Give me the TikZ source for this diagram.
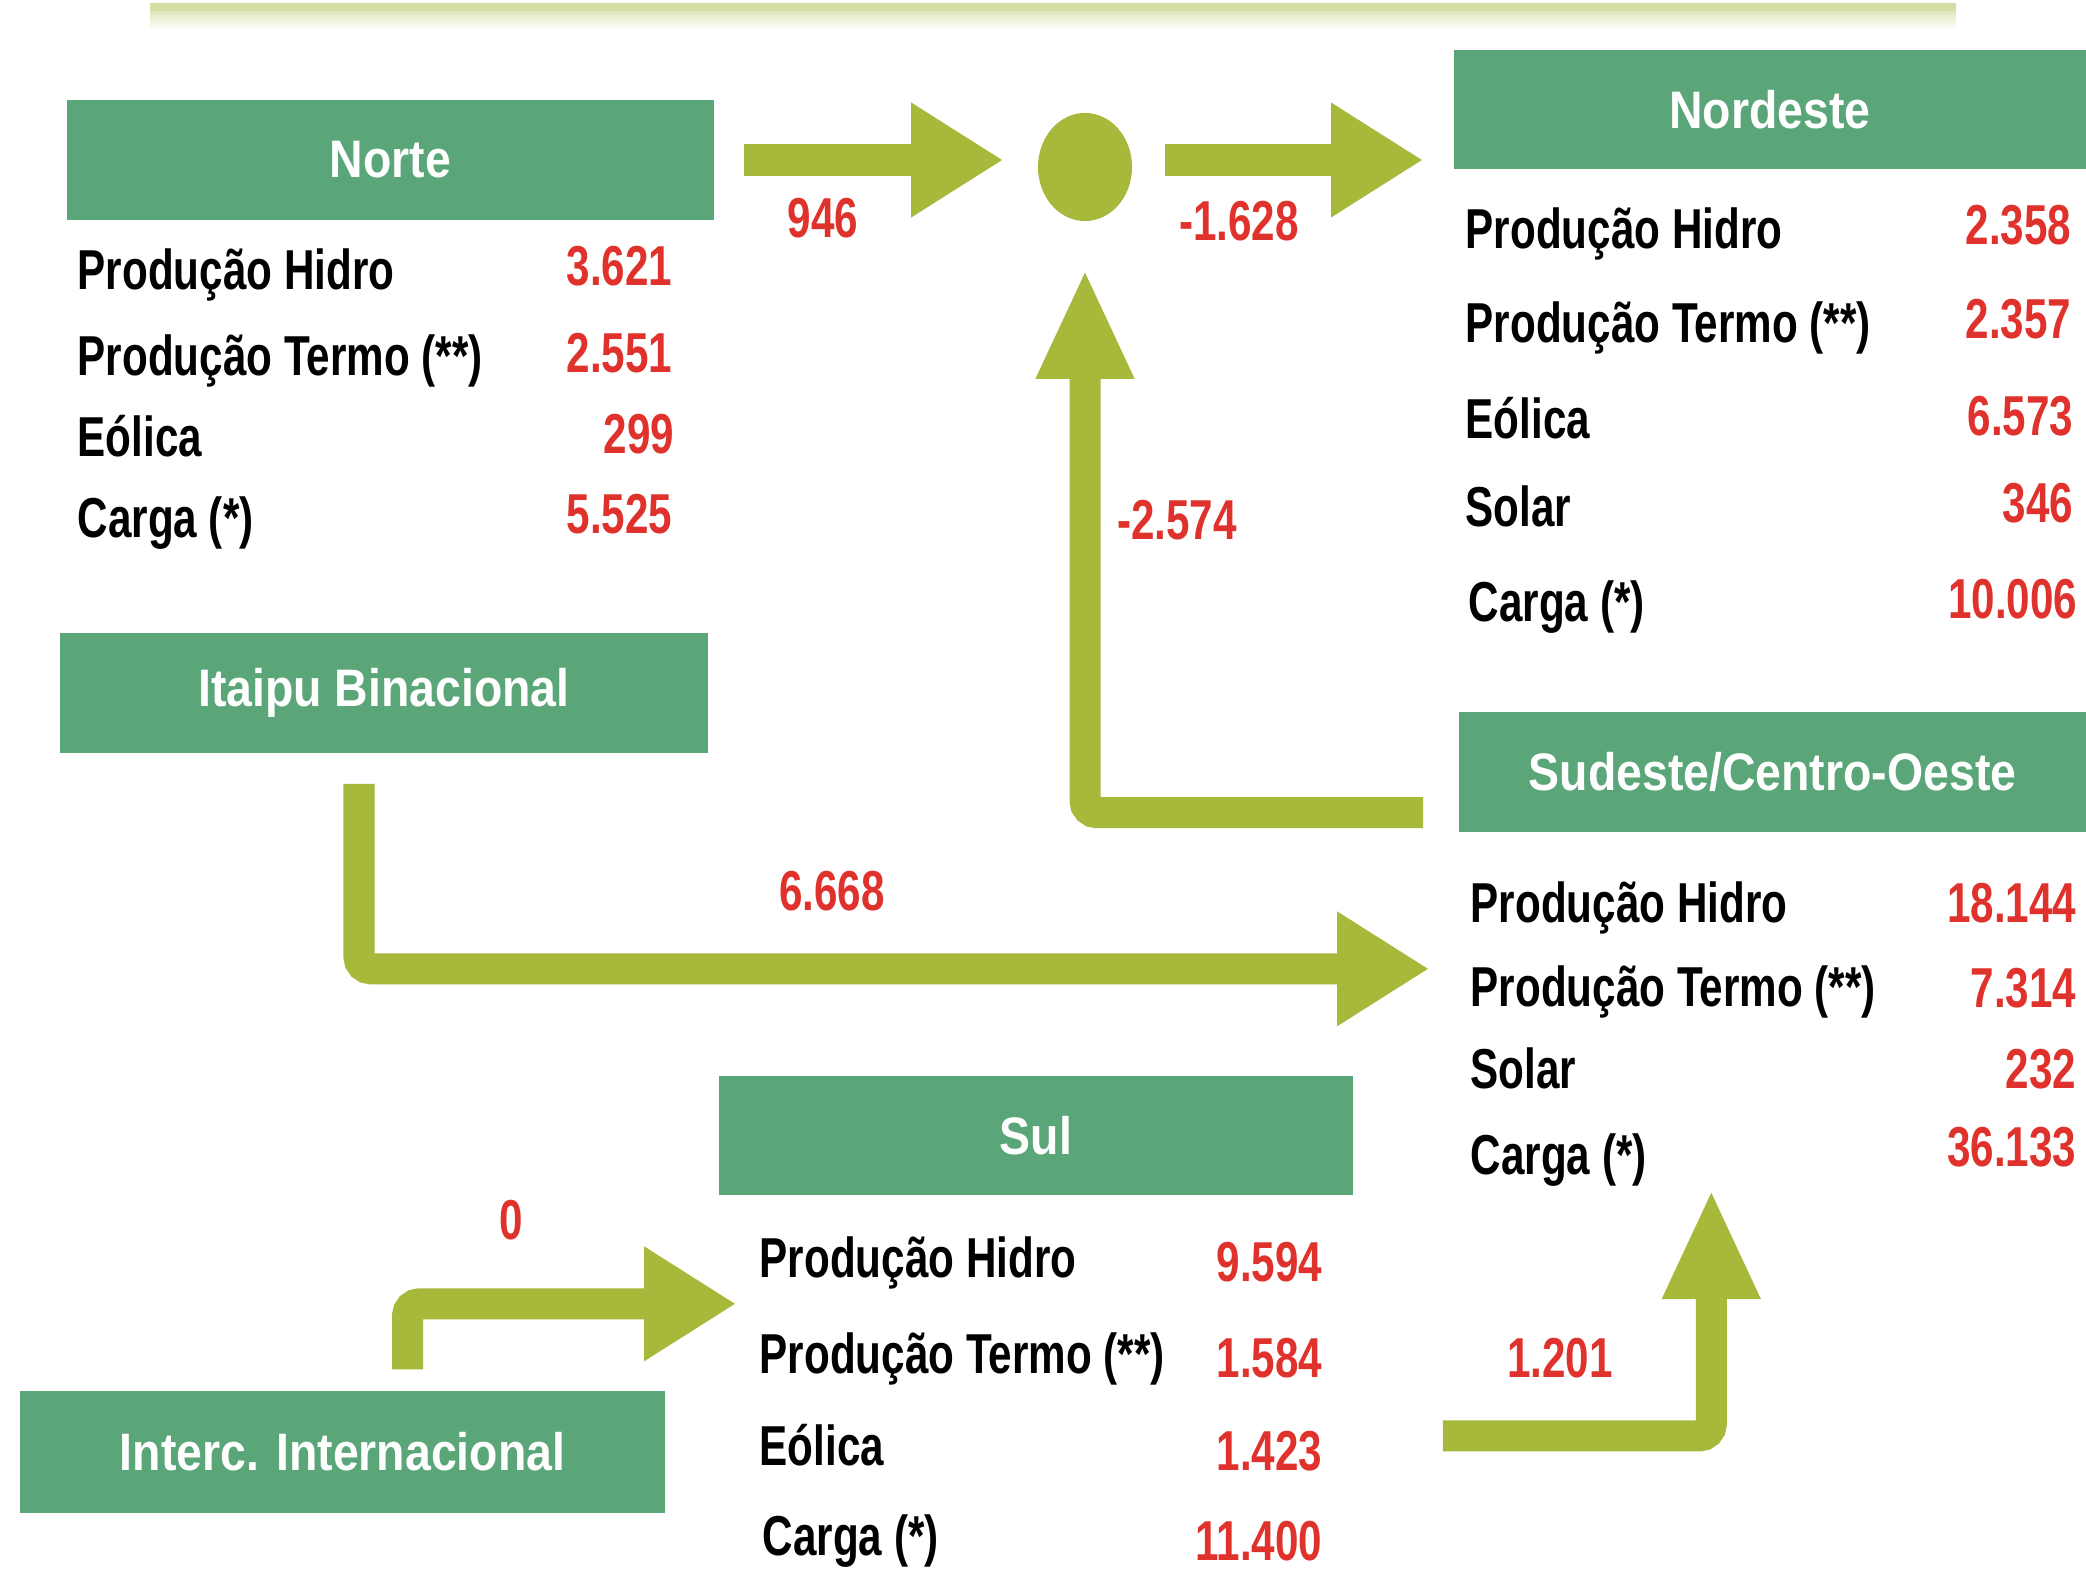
\documentclass[tikz,border=0pt]{standalone}
\usepackage{fontspec}
\usepackage{tikz}
\usetikzlibrary{arrows.meta,shapes.geometric}

\newfontfamily\hdrfont{Liberation Sans}[FakeStretch=0.88]
\newfontfamily\rowfont{Liberation Sans}[FakeStretch=0.75]

\definecolor{boxgreen}{HTML}{5AA679}
\definecolor{flowgreen}{HTML}{A7B83A}
\definecolor{numred}{HTML}{E0322C}
\definecolor{topline}{HTML}{D3DFA5}

\begin{document}
\begin{tikzpicture}[
    % one unit is one pixel, y grows downwards
    x=0.01cm, y=-0.01cm,
    % region headers
    hdr/.style = {fill=boxgreen, text=white, inner sep=0pt, minimum height=1.2cm,
                  font=\hdrfont\bfseries\fontsize{15pt}{17pt}\selectfont},
    % table rows
    lbl/.style = {anchor=base west, inner sep=0pt,
                  font=\rowfont\bfseries\fontsize{16pt}{18pt}\selectfont},
    val/.style = {anchor=base east, inner sep=0pt, text=numred,
                  font=\rowfont\bfseries\fontsize{16pt}{18pt}\selectfont},
    flowlab/.style = {inner sep=0pt, text=numred,
                  font=\rowfont\bfseries\fontsize{16pt}{18pt}\selectfont},
    % fat arrows
    flow/.style = {draw=flowgreen, line width=0.31cm, rounded corners=0.12cm},
    hflow/.style = {flow, -{Triangle[length=0.92cm, width=1.08cm]}},
    vflow/.style = {flow, -{Triangle[length=1.1cm, width=0.9cm]}},
    junction/.style = {ellipse, fill=flowgreen, minimum width=0.94cm,
                  minimum height=1.08cm, inner sep=0pt}
    ]

    \path[use as bounding box] (0,0) rectangle (2086,1570);
    \fill[white] (0,0) rectangle (2086,1570);
    \clip (0,0) rectangle (2086,1570);

    % line on top
    \shade[top color=topline, bottom color=white] (150,4) rectangle (1956,30);
    \fill[topline] (150,5) rectangle (1956,11);

    % headers
    \node (norte)    [hdr, minimum width=6.47cm] at (390.5,160) {Norte};
    \node (nordeste) [hdr, minimum width=6.32cm, minimum height=1.19cm] at (1770,109.5) {Nordeste};
    \node (itaipu)   [hdr, minimum width=6.48cm] at (384,693) {Itaipu Binacional};
    \node (sudeste)  [hdr, minimum width=6.27cm] at (1772.5,772) {Sudeste/Centro-Oeste};
    \node (sul)      [hdr, minimum width=6.34cm, minimum height=1.19cm] at (1036,1135.5) {Sul};
    \node (interc)   [hdr, minimum width=6.45cm, minimum height=1.22cm] at (342.5,1452) {Interc. Internacional};

    \node (junc) [junction] at (1085,167) {};

    % Norte
    \node (Nlab1) [lbl] at (77,290) {Produção Hidro};
    \node (Nlab2) [lbl] at (77,376) {Produção Termo (**)};
    \node (Nlab3) [lbl] at (77,456) {Eólica};
    \node (Nlab4) [lbl] at (77,537) {Carga (*)};
    \node (Nval1) [val] at (673,286) {3.621};
    \node (Nval2) [val] at (673,373) {2.551};
    \node (Nval3) [val] at (675,453) {299};
    \node (Nval4) [val] at (673,533) {5.525};

    % Nordeste
    \node (NElab1) [lbl] at (1465,249) {Produção Hidro};
    \node (NElab2) [lbl] at (1465,343) {Produção Termo (**)};
    \node (NElab3) [lbl] at (1465,438) {Eólica};
    \node (NElab4) [lbl] at (1465,526) {Solar};
    \node (NElab5) [lbl] at (1468,621) {Carga (*)};
    \node (NEval1) [val] at (2072,245) {2.358};
    \node (NEval2) [val] at (2072,338) {2.357};
    \node (NEval3) [val] at (2074,435) {6.573};
    \node (NEval4) [val] at (2074,522) {346};
    \node (NEval5) [val] at (2078,618) {10.006};

    % Sudeste/Centro-Oeste
    \node (SElab1) [lbl] at (1470,922) {Produção Hidro};
    \node (SElab2) [lbl] at (1470,1006) {Produção Termo (**)};
    \node (SElab3) [lbl] at (1470,1088) {Solar};
    \node (SElab4) [lbl] at (1470,1174) {Carga (*)};
    \node (SEval1) [val] at (2077,922) {18.144};
    \node (SEval2) [val] at (2077,1007) {7.314};
    \node (SEval3) [val] at (2077,1088) {232};
    \node (SEval4) [val] at (2077,1166) {36.133};

    % Sul
    \node (Slab1) [lbl] at (759,1277) {Produção Hidro};
    \node (Slab2) [lbl] at (759,1373) {Produção Termo (**)};
    \node (Slab3) [lbl] at (759,1465) {Eólica};
    \node (Slab4) [lbl] at (762,1555) {Carga (*)};
    \node (Sval1) [val] at (1323,1281) {9.594};
    \node (Sval2) [val] at (1323,1377) {1.584};
    \node (Sval3) [val] at (1323,1470) {1.423};
    \node (Sval4) [val] at (1323,1560) {11.400};

    % edges
    \path[hflow, shorten <=0.29cm, shorten >=0.34cm] (norte.east) -- (norte.east -| junc.west);
    \path[hflow, shorten <=0.32cm, shorten >=0.30cm] (junc.east |- norte.east) -- (norte.east -| nordeste.west);
    \path[vflow, shorten <=0.35cm, shorten >=0.47cm] ([yshift=0.2cm]sudeste.south west) -| (junc.south);
    \path[hflow, shorten <=0.30cm, shorten >=0.29cm] ([xshift=-0.25cm]itaipu.south) |- ([yshift=-1.36cm]sudeste.south west);
    \path[hflow, shorten <=0.21cm] ([xshift=0.65cm]interc.north) |- ([xshift=0.18cm,yshift=-1.08cm]sul.south west);
    \path[vflow] ([xshift=0.89cm,yshift=-2.4cm]sul.south east) -| ([xshift=2.53cm,yshift=-3.56cm]sudeste.south west);

    % flows
    \node (f1) [flowlab] at (823,218)   {946};
    \node (f2) [flowlab] at (1239,221)  {-1.628};
    \node (f3) [flowlab] at (1177,520)  {-2.574};
    \node (f4) [flowlab] at (832,891)   {6.668};
    \node (f5) [flowlab] at (511,1220)  {0};
    \node (f6) [flowlab] at (1560,1358) {1.201};
\end{tikzpicture}
\end{document}
